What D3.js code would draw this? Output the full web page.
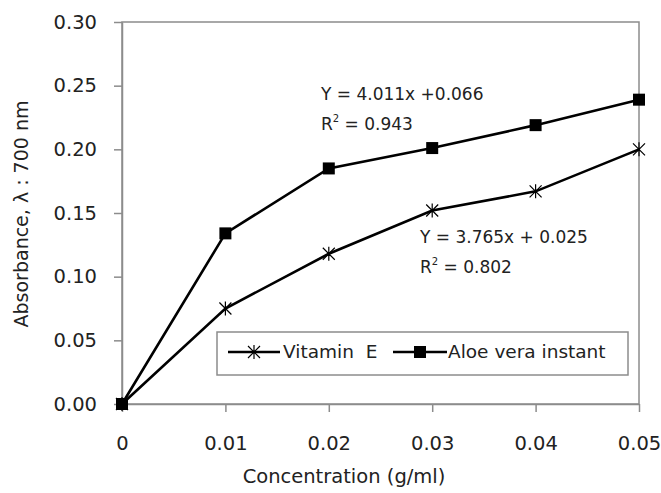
<!DOCTYPE html>
<html>
<head>
<meta charset="utf-8">
<script src="https://cdn.jsdelivr.net/npm/d3@7"></script>
<style>
  body { margin: 0; background: #fff; }
  svg text { font-family: "DejaVu Sans", sans-serif; fill: #222; white-space: pre; }
</style>
</head>
<body>
<svg></svg>
<script>
// data
const concentrations = [0, 0.01, 0.02, 0.03, 0.04, 0.05];
const vitaminE = [0, 0.075, 0.118, 0.152, 0.167, 0.200];
const aloeVera = [0, 0.134, 0.185, 0.201, 0.219, 0.239];
const xTicks = [0, 0.01, 0.02, 0.03, 0.04, 0.05];
const yTicks = [0, 0.05, 0.10, 0.15, 0.20, 0.25, 0.30];

// setup
const width = 661;
const height = 493;
const plotLeft = 122;
const plotRight = 639;
const plotTop = 22;
const plotBottom = 404;

const svg = d3.select('svg')
  .attr('width', width)
  .attr('height', height);

// scales
const xScale = d3.scaleLinear().domain([0, 0.05]).range([plotLeft, plotRight]);
const yScale = d3.scaleLinear().domain([0, 0.30]).range([plotBottom, plotTop]);

// plot frame
svg.append('rect')
  .attr('x', plotLeft)
  .attr('y', plotTop)
  .attr('width', plotRight - plotLeft)
  .attr('height', plotBottom - plotTop)
  .attr('fill', 'none')
  .attr('stroke', '#8c8c8c')
  .attr('stroke-width', 1.5);

// axes
const yAxis = svg.append('g')
  .attr('transform', 'translate(' + plotLeft + ', 0)')
  .call(d3.axisLeft(yScale)
    .tickValues(yTicks)
    .tickFormat(d3.format('.2f'))
    .tickSize(8)
    .tickSizeOuter(0)
    .tickPadding(17));

const xAxis = svg.append('g')
  .attr('transform', 'translate(0, ' + plotBottom + ')')
  .call(d3.axisBottom(xScale)
    .tickValues(xTicks)
    .tickFormat(function (d) { return d === 0 ? '0' : d3.format('.2f')(d); })
    .tickSize(8)
    .tickSizeOuter(0)
    .tickPadding(24));

[yAxis, xAxis].forEach(function (ax) {
  ax.select('.domain').attr('stroke', '#8c8c8c').attr('stroke-width', 1.5);
  ax.selectAll('.tick line').attr('stroke', '#8c8c8c').attr('stroke-width', 1.5);
  ax.selectAll('.tick text')
    .style('font-family', '"DejaVu Sans", sans-serif')
    .style('font-size', '19.5px')
    .attr('fill', '#222');
});

// lines
const line = d3.line()
  .x(function (d) { return xScale(d[0]); })
  .y(function (d) { return yScale(d[1]); });

const vitPts = concentrations.map(function (c, i) { return [c, vitaminE[i]]; });
const aloePts = concentrations.map(function (c, i) { return [c, aloeVera[i]]; });

svg.append('path').datum(vitPts)
  .attr('d', line).attr('fill', 'none').attr('stroke', '#000').attr('stroke-width', 2.6);
svg.append('path').datum(aloePts)
  .attr('d', line).attr('fill', 'none').attr('stroke', '#000').attr('stroke-width', 2.6);

// markers
const star = 'M-6,-6L6,6M-6,6L6,-6M0,-7L0,7';
function drawStar(g, x, y) {
  g.append('path').attr('d', star)
    .attr('transform', 'translate(' + x + ',' + y + ')')
    .attr('stroke', '#000').attr('stroke-width', 1.2).attr('fill', 'none');
}
function drawSquare(g, x, y) {
  g.append('rect').attr('x', x - 6).attr('y', y - 6)
    .attr('width', 12).attr('height', 12).attr('fill', '#000');
}

vitPts.forEach(function (d) { drawStar(svg, xScale(d[0]), yScale(d[1])); });
aloePts.forEach(function (d) { drawSquare(svg, xScale(d[0]), yScale(d[1])); });

// axis titles
svg.append('text')
  .attr('x', 344)
  .attr('y', 483)
  .attr('text-anchor', 'middle')
  .style('font-size', '19.5px')
  .text('Concentration (g/ml)');

svg.append('text')
  .attr('transform', 'translate(28, 214) rotate(-90)')
  .attr('text-anchor', 'middle')
  .style('font-size', '19px')
  .text('Absorbance, λ : 700 nm');

// equations
function equation(x, y, eq, r2) {
  svg.append('text').attr('x', x).attr('y', y).style('font-size', '17px').text(eq);
  const t = svg.append('text').attr('x', x).attr('y', y + 30).style('font-size', '17px');
  t.append('tspan').text('R');
  t.append('tspan').attr('dy', -8).style('font-size', '10px').text('2');
  t.append('tspan').attr('dy', 8).text(' = ' + r2);
}
equation(321, 100, 'Y = 4.011x +0.066', '0.943');
equation(420, 243, 'Y = 3.765x + 0.025', '0.802');

// legend
const legend = svg.append('g');
legend.append('rect')
  .attr('x', 217).attr('y', 332).attr('width', 411).attr('height', 43)
  .attr('fill', '#fff').attr('stroke', '#8c8c8c').attr('stroke-width', 1.5);

legend.append('line').attr('x1', 228).attr('x2', 280).attr('y1', 352).attr('y2', 352)
  .attr('stroke', '#000').attr('stroke-width', 2.6);
drawStar(legend, 254, 352);
legend.append('text').attr('x', 283).attr('y', 358).style('font-size', '18.5px').text('Vitamin  E');

legend.append('line').attr('x1', 393).attr('x2', 447).attr('y1', 352).attr('y2', 352)
  .attr('stroke', '#000').attr('stroke-width', 2.6);
drawSquare(legend, 420, 352);
legend.append('text').attr('x', 448).attr('y', 358).style('font-size', '18.5px').text('Aloe vera instant');
</script>
</body>
</html>
